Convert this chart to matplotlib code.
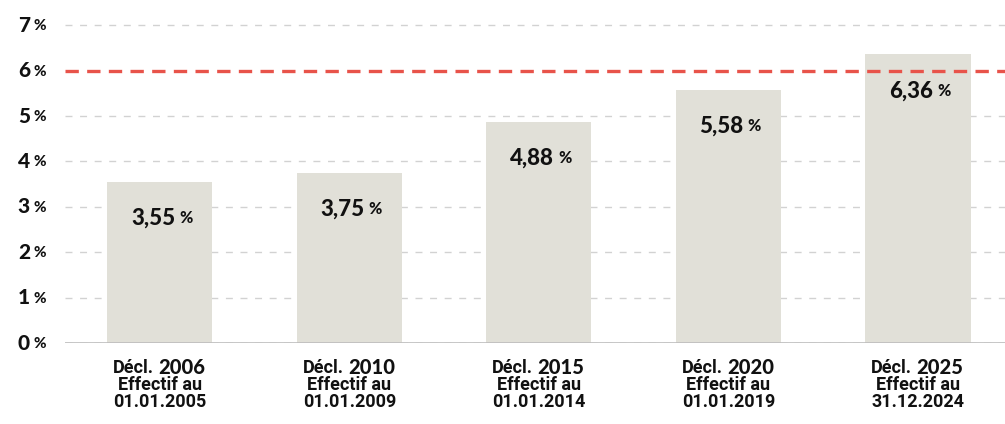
import matplotlib
matplotlib.use("Agg")
import matplotlib.pyplot as plt
from matplotlib.transforms import blended_transform_factory

years = ["2006", "2010", "2015", "2020", "2025"]
dates = ["01.01.2005", "01.01.2009", "01.01.2014", "01.01.2019", "31.12.2024"]
rates = [3.55, 3.75, 4.88, 5.58, 6.36]
labels = ["3,55", "3,75", "4,88", "5,58", "6,36"]
target = 6
yticks = [0, 1, 2, 3, 4, 5, 6, 7]

narrow = ["Roboto", "DejaVu Sans"]
geo = ["Lato", "DejaVu Sans"]

fig = plt.figure(figsize=(10.05, 4.24), dpi=100)
ax = fig.add_axes([0.0647, 0.191, 0.9353, 0.792])

x = list(range(len(years)))
ax.bar(x, rates, width=0.556, color="#e1e0d8", zorder=2)
ax.set_xlim(-0.5, 4.46)
ax.set_ylim(0, 7.4)

for v in yticks:
    if v == target:
        continue
    ax.axhline(v, color="#d2d2d2", lw=1, ls=(0, (5, 5.5)), zorder=1)
ax.axhline(0, color="#bdbdbd", lw=1.2, zorder=3)
ax.axhline(target, color="#e8534a", lw=2.4, ls=(0, (4, 2.5)), zorder=4)

for s in ax.spines.values():
    s.set_visible(False)
ax.set_xticks([])
ax.set_yticks([])

# y tick labels
tr = blended_transform_factory(fig.transFigure, ax.transData)
for v in yticks:
    ax.text(30 / 1005, v, str(v), transform=tr, ha="right", va="center",
            fontsize=15, fontweight="black", family=geo, color="#111111")
    ax.text(33 / 1005, v - 0.02, "%", transform=tr, ha="left", va="center",
            fontsize=11, fontweight="black", family=geo, color="#111111")

# value labels inside bars
for i, (r, lab) in enumerate(zip(rates, labels)):
    ax.annotate(lab, (i, r - 0.8), xytext=(11, 0), textcoords="offset points",
                ha="right", va="center", fontsize=16, fontweight="black",
                family=geo, color="#111111", zorder=5)
    ax.annotate("%", (i, r - 0.8), xytext=(14, 0), textcoords="offset points",
                ha="left", va="center", fontsize=11.5, fontweight="black",
                family=geo, color="#111111", zorder=5)

# category labels
trx = blended_transform_factory(ax.transData, fig.transFigure)
for i, (yr, d) in enumerate(zip(years, dates)):
    ax.annotate("Décl.", (i, 1 - 368 / 424), xycoords=trx, xytext=(-4, 0),
                textcoords="offset points", ha="right", va="center",
                fontsize=13, fontweight="bold", family=narrow, color="#111111")
    ax.annotate(yr, (i, 1 - 368 / 424), xycoords=trx, xytext=(-1, 0),
                textcoords="offset points", ha="left", va="center",
                fontsize=14.5, fontweight="black", family=geo, color="#111111")
    ax.text(i, 1 - 385 / 424, "Effectif au", transform=trx, ha="center", va="center",
            fontsize=13, fontweight="bold", family=narrow, color="#111111")
    ax.text(i, 1 - 402 / 424, d, transform=trx, ha="center", va="center",
            fontsize=13, fontweight="bold", family=narrow, color="#111111")

fig.savefig("out.png", dpi=100)
